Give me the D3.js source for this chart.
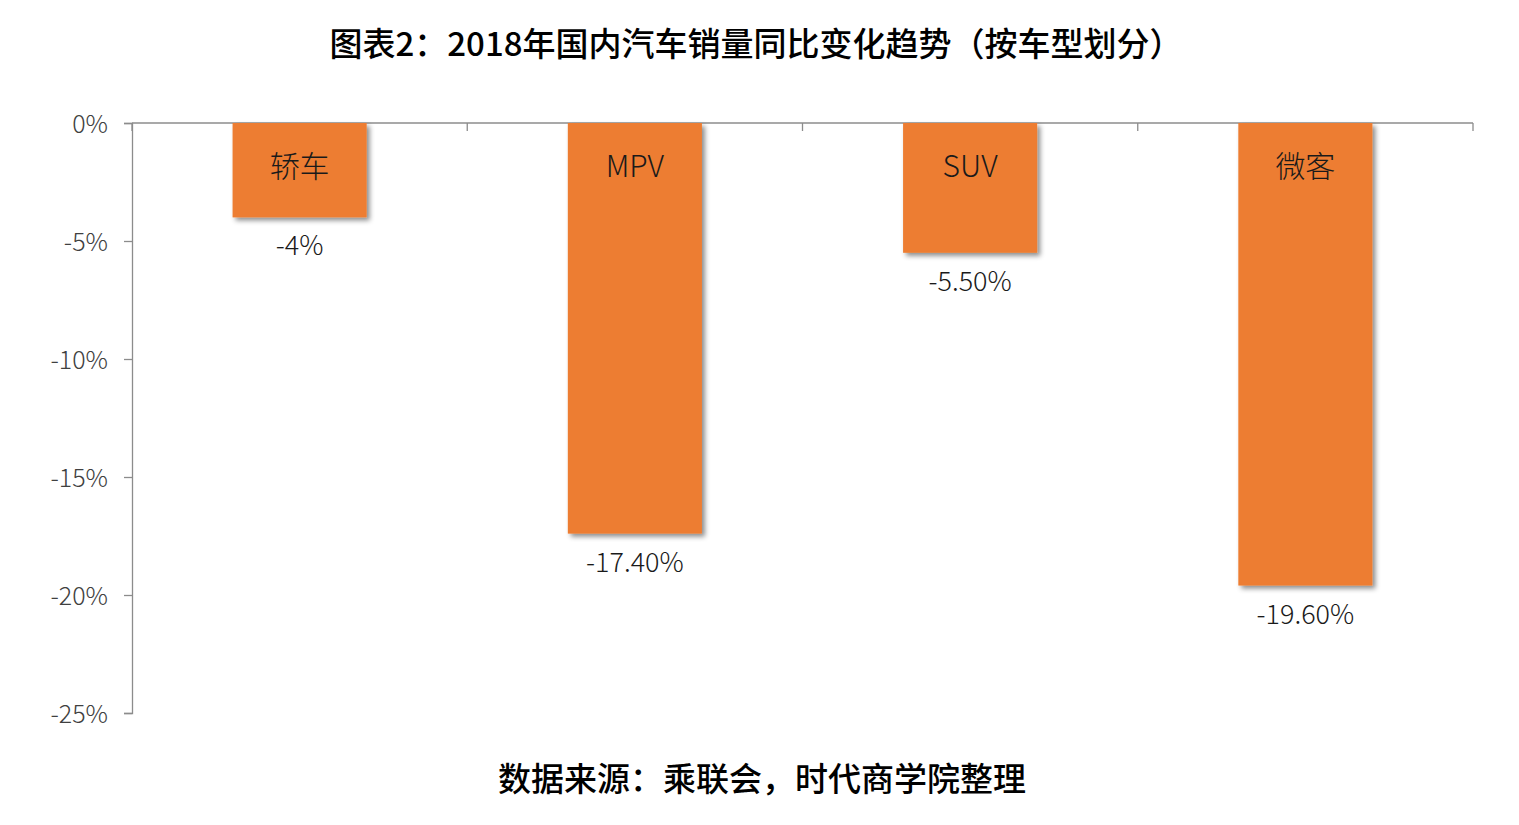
<!DOCTYPE html>
<html><head><meta charset="utf-8">
<script src="https://cdn.jsdelivr.net/npm/d3@7"></script>
<style>
html,body{margin:0;padding:0;background:#fff;}
svg{display:block;}
</style>
</head><body>
<svg id="chart" width="1519" height="825"></svg>
<script>
const categories = ["轿车", "MPV", "SUV", "微客"];
const values = [-4, -17.4, -5.5, -19.6];
const valueLabels = ["-4%", "-17.40%", "-5.50%", "-19.60%"];
const yTicks = [0, -5, -10, -15, -20, -25];
const yTickLabels = ["0%", "-5%", "-10%", "-15%", "-20%", "-25%"];
const title = "图表2：2018年国内汽车销量同比变化趋势（按车型划分）";
const source = "数据来源：乘联会，时代商学院整理";

(function(){
const svg = d3.select("#chart");
const mLeft = 132, mRight = 1473, mTop = 123, mBottom = 713;

const defs = svg.append("defs");
const f = defs.append("filter").attr("id","shadow").attr("x","-10%").attr("y","-10%").attr("width","130%").attr("height","130%");
f.append("feDropShadow").attr("dx",3).attr("dy",3).attr("stdDeviation",2.5).attr("flood-color","#000").attr("flood-opacity",0.45);

const x = d3.scaleBand().domain(categories).range([mLeft, mRight]).paddingInner(0.6).paddingOuter(0.3);
const xb = d3.scaleBand().domain(categories).range([mLeft, mRight]);
const y = d3.scaleLinear().domain([0, -25]).range([mTop, mBottom]);

const font = "'Noto Sans CJK SC', 'Noto Sans', sans-serif";

// Y axis
const yAxis = svg.append("g").attr("transform", `translate(${mLeft},0)`)
  .call(d3.axisLeft(y).tickValues(yTicks).tickSize(8).tickFormat((d,i)=>yTickLabels[i]).tickPadding(16));
yAxis.select(".domain").attr("stroke","#8c8c8c").attr("stroke-width",1.3);
yAxis.selectAll(".tick line").attr("stroke","#8c8c8c").attr("stroke-width",1.3);
yAxis.selectAll(".tick text").attr("font-family", font).attr("font-weight",300).attr("font-size",25).attr("fill","#404040").attr("dy","0.36em");

// X axis at 0 with ticks downward at category boundaries
const xAxisG = svg.append("g");
xAxisG.append("line").attr("x1",mLeft).attr("x2",mRight).attr("y1",y(0)).attr("y2",y(0)).attr("stroke","#8c8c8c").attr("stroke-width",1.3);
const bounds = categories.map(c => xb(c)).concat([xb(categories[categories.length-1]) + xb.bandwidth()]);
xAxisG.selectAll("line.tk").data(bounds).join("line").attr("class","tk")
  .attr("x1",d=>d).attr("x2",d=>d).attr("y1",y(0)).attr("y2",y(0)+8).attr("stroke","#8c8c8c").attr("stroke-width",1.3);

// Bars
svg.append("g").selectAll("rect").data(values).join("rect")
  .attr("x",(d,i)=>x(categories[i]))
  .attr("y",y(0))
  .attr("width",x.bandwidth())
  .attr("height",d=>y(d)-y(0))
  .attr("fill","#ED7D31")
  .attr("filter","url(#shadow)");

// Category labels inside bars
svg.append("g").selectAll("text").data(categories).join("text")
  .attr("x",d=>x(d)+x.bandwidth()/2)
  .attr("y",y(0)+54)
  .attr("text-anchor","middle")
  .attr("font-family",font).attr("font-weight",300).attr("font-size",30).attr("fill","#1a1a1a")
  .text(d=>d);

// Value labels below bars
svg.append("g").selectAll("text").data(values).join("text")
  .attr("x",(d,i)=>x(categories[i])+x.bandwidth()/2)
  .attr("y",d=>y(d)+38)
  .attr("text-anchor","middle")
  .attr("font-family",font).attr("font-weight",300).attr("font-size",27).attr("fill","#1a1a1a")
  .text((d,i)=>valueLabels[i]);

// Title
svg.append("text").attr("x",756).attr("y",56).attr("text-anchor","middle")
  .attr("font-family",font).attr("font-weight",500).attr("font-size",33).attr("fill","#000")
  .text(title);

// Source
svg.append("text").attr("x",762).attr("y",791).attr("text-anchor","middle")
  .attr("font-family",font).attr("font-weight",500).attr("font-size",33).attr("fill","#000")
  .text(source);
})();
</script>
</body></html>
